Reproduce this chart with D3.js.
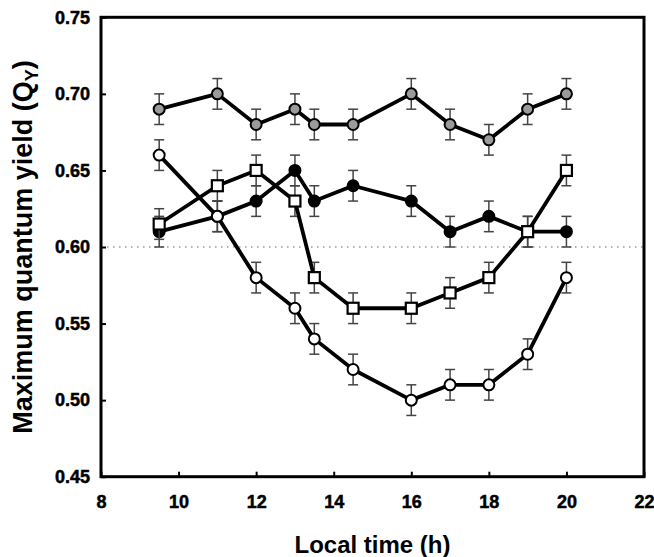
<!DOCTYPE html>
<html>
<head>
<meta charset="utf-8">
<script src="https://cdn.jsdelivr.net/npm/d3@7"></script>
<style>
    body { margin: 0; background: #fff; }
    svg { display: block; font-family: "Liberation Sans", Arial, sans-serif; }
    svg text { font-weight: 700; fill: #000; }
</style>
</head>
<body>
<svg id="chart" width="654" height="557"></svg>
<script>
// local time (h)
const hours = [9.5, 11, 12, 13, 13.5, 14.5, 16, 17, 18, 19, 20];

// quantum yield per series
const grayCircles  = [0.69, 0.70, 0.68, 0.69, 0.68, 0.68, 0.70, 0.68, 0.67, 0.69, 0.70];
const blackCircles = [0.61, 0.62, 0.63, 0.65, 0.63, 0.64, 0.63, 0.61, 0.62, 0.61, 0.61];
const openSquares  = [0.615, 0.64, 0.65, 0.63, 0.58, 0.56, 0.56, 0.57, 0.58, 0.61, 0.65];
const openCircles  = [0.66, 0.62, 0.58, 0.56, 0.54, 0.52, 0.50, 0.51, 0.51, 0.53, 0.58];

// error bar half-widths
const grayErr   = [0.01, 0.01, 0.01, 0.01, 0.01, 0.01, 0.01, 0.01, 0.01, 0.01, 0.01];
const blackErr  = [0.01, 0.01, 0.01, 0.01, 0.01, 0.01, 0.01, 0.01, 0.01, 0.01, 0.01];
const squareErr = [0.01, 0.01, 0.01, 0.01, 0.01, 0.01, 0.01, 0.01, 0.01, 0.01, 0.01];
const openErr   = [0.01, 0.01, 0.01, 0.01, 0.01, 0.01, 0.01, 0.01, 0.01, 0.01, 0.01];

const xTicks = [8, 10, 12, 14, 16, 18, 20, 22];
const yTicks = [0.45, 0.50, 0.55, 0.60, 0.65, 0.70, 0.75];
const refLine = 0.60;

const margin = { left: 101, right: 644, top: 17.3, bottom: 476.7 };

const svg = d3.select('#chart');

const x = d3.scaleLinear().domain([8, 22]).range([margin.left, margin.right]);
const y = d3.scaleLinear().domain([0.45, 0.75]).range([margin.bottom, margin.top]);

// dotted reference line
svg.append('line')
    .attr('x1', x(8)).attr('x2', x(22))
    .attr('y1', y(refLine)).attr('y2', y(refLine))
    .attr('stroke', '#999')
    .attr('stroke-width', 1.5)
    .attr('stroke-dasharray', '1.5,4.5');

function styleAxis(g) {
    g.attr('font-family', null).attr('font-size', null);
    g.select('.domain').remove();
    g.selectAll('.tick line').attr('stroke', '#000').attr('stroke-width', 2);
    g.selectAll('.tick text')
        .style('font-family', '"Liberation Sans", Arial, sans-serif')
        .style('font-size', '18px')
        .style('font-weight', '700')
        .style('stroke', '#000')
        .style('stroke-width', '0.5px');
}

// axes with inward ticks
svg.append('g')
    .attr('transform', `translate(0,${margin.bottom})`)
    .call(d3.axisBottom(x).tickValues(xTicks).tickFormat(d3.format('d'))
        .tickSizeInner(-5).tickSizeOuter(0).tickPadding(19))
    .call(styleAxis);

svg.append('g')
    .attr('transform', `translate(${margin.left},0)`)
    .call(d3.axisLeft(y).tickValues(yTicks).tickFormat(d3.format('.2f'))
        .tickSizeInner(-5).tickSizeOuter(0).tickPadding(11))
    .call(styleAxis);

// frame
svg.append('rect')
    .attr('x', margin.left).attr('y', margin.top)
    .attr('width', margin.right - margin.left)
    .attr('height', margin.bottom - margin.top)
    .attr('fill', 'none')
    .attr('stroke', '#000')
    .attr('stroke-width', 3);

const series = [
    { values: grayCircles,  err: grayErr,   shape: 'circle', fill: '#9b9b9b' },
    { values: blackCircles, err: blackErr,  shape: 'circle', fill: '#000' },
    { values: openSquares,  err: squareErr, shape: 'square', fill: '#fff' },
    { values: openCircles,  err: openErr,   shape: 'circle', fill: '#fff' }
];

const line = d3.line().x((d) => x(d.t)).y((d) => y(d.v));

series.forEach((s) => {
    const pts = hours.map((t, i) => ({ t: t, v: s.values[i], e: s.err[i] }));
    const g = svg.append('g');

    // error bars
    const eb = g.append('g').attr('stroke', '#444').attr('stroke-width', 1.5);
    pts.forEach((d) => {
        eb.append('line')
            .attr('x1', x(d.t)).attr('x2', x(d.t))
            .attr('y1', y(d.v - d.e)).attr('y2', y(d.v + d.e));
        [d.v - d.e, d.v + d.e].forEach((v) => {
            eb.append('line')
                .attr('x1', x(d.t) - 5).attr('x2', x(d.t) + 5)
                .attr('y1', y(v)).attr('y2', y(v));
        });
    });

    g.append('path')
        .datum(pts)
        .attr('d', line)
        .attr('fill', 'none')
        .attr('stroke', '#000')
        .attr('stroke-width', 3.8)
        .attr('stroke-linejoin', 'round');

    if (s.shape === 'circle') {
        g.selectAll('circle')
            .data(pts)
            .enter()
            .append('circle')
            .attr('cx', (d) => x(d.t))
            .attr('cy', (d) => y(d.v))
            .attr('r', 5.5)
            .attr('fill', s.fill)
            .attr('stroke', '#000')
            .attr('stroke-width', 2);
    } else {
        g.selectAll('rect')
            .data(pts)
            .enter()
            .append('rect')
            .attr('x', (d) => x(d.t) - 5.5)
            .attr('y', (d) => y(d.v) - 5.5)
            .attr('width', 11)
            .attr('height', 11)
            .attr('fill', s.fill)
            .attr('stroke', '#000')
            .attr('stroke-width', 2.2);
    }
});

// axis titles
svg.append('text')
    .attr('x', (margin.left + margin.right) / 2)
    .attr('y', 553)
    .attr('text-anchor', 'middle')
    .style('font-size', '24px')
    .text('Local time (h)');

const yTitle = svg.append('text')
    .attr('transform', `translate(32,${(margin.top + margin.bottom) / 2}) rotate(-90)`)
    .attr('text-anchor', 'middle')
    .style('font-size', '27px');
yTitle.append('tspan').text('Maximum quantum yield (Q');
yTitle.append('tspan').style('font-size', '18px').attr('dy', 6).text('Y');
yTitle.append('tspan').attr('dy', -6).text(')');
</script>
</body>
</html>
